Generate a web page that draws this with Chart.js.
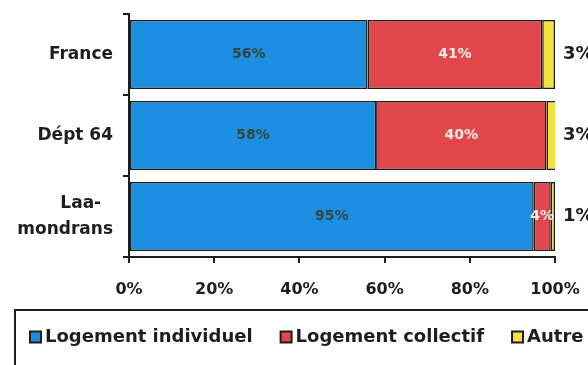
<!DOCTYPE html>
<html>
<head>
<meta charset="utf-8">
<script src="https://cdn.jsdelivr.net/npm/chart.js@4.4.1/dist/chart.umd.min.js"></script>
<style>
    html, body { margin: 0; padding: 0; background: #fff; }
</style>
</head>
<body>
<canvas id="logementChart" width="588" height="365"></canvas>
<script>
const communes = ['France', 'Dépt 64', ['Laa-  ', 'mondrans']]
const individuel = [56, 58, 95]
const collectif = [41, 40, 4]
const autre = [3, 3, 1]
const seriesNames = ['Logement individuel', 'Logement collectif', 'Autre']
const xTickValues = [0, 20, 40, 60, 80, 100]

const FONT = '"DejaVu Sans", sans-serif'
const INK = '#1e1e1e'

// writes the percentage of each segment; "Autre" goes outside the bar on the right
const segmentLabels = {
    id: 'segmentLabels',
    afterDatasetsDraw(chart) {
        const ctx = chart.ctx
        ctx.save()
        ctx.textBaseline = 'middle'
        chart.data.datasets.forEach((ds, i) => {
            chart.getDatasetMeta(i).data.forEach((bar, j) => {
                const text = ds.data[j] + '%'
                if (ds.outside) {
                    ctx.font = 'bold 18px ' + FONT
                    ctx.fillStyle = INK
                    ctx.textAlign = 'left'
                    ctx.fillText(text, chart.chartArea.right + 8, bar.y)
                } else {
                    ctx.font = 'bold 14px ' + FONT
                    ctx.fillStyle = ds.labelColor
                    ctx.textAlign = 'center'
                    ctx.fillText(text, (bar.base + bar.x) / 2, bar.y)
                }
            })
        })
        ctx.restore()
    }
}

// legend drawn inside an open frame under the axis
const framedLegend = {
    id: 'framedLegend',
    afterDraw(chart, args, opts) {
        const ctx = chart.ctx
        ctx.save()
        ctx.strokeStyle = INK
        ctx.lineWidth = 2
        ctx.beginPath()
        ctx.moveTo(opts.left, chart.height + 5)
        ctx.lineTo(opts.left, opts.top)
        ctx.lineTo(chart.width + 5, opts.top)
        ctx.stroke()

        ctx.font = 'bold 18px ' + FONT
        ctx.textBaseline = 'middle'
        ctx.textAlign = 'left'
        let x = opts.start
        chart.data.datasets.forEach(ds => {
            const s = opts.box
            ctx.fillStyle = ds.backgroundColor
            ctx.fillRect(x, opts.y - s / 2, s, s)
            ctx.lineWidth = 2
            ctx.strokeRect(x, opts.y - s / 2, s, s)
            ctx.fillStyle = INK
            ctx.fillText(ds.label, x + s + 4, opts.y)
            x += s + 4 + ctx.measureText(ds.label).width + opts.gap
        })
        ctx.restore()
    }
}

const axisLine = {color: INK, width: 2}
const axisGrid = {drawOnChartArea: false, drawTicks: true, tickLength: 6, color: INK, lineWidth: 2}

new Chart(document.getElementById('logementChart'), {
    type: 'bar',
    data: {
        labels: communes,
        datasets: [
            {label: seriesNames[0], data: individuel, backgroundColor: '#1d8fe2', labelColor: '#34463c'},
            {label: seriesNames[1], data: collectif, backgroundColor: '#e2474b', labelColor: '#fbeaea'},
            {label: seriesNames[2], data: autre, backgroundColor: '#f4e23e', outside: true}
        ]
    },
    options: {
        indexAxis: 'y',
        responsive: false,
        animation: false,
        events: [],
        layout: {padding: {top: 14, right: 33, left: 0, bottom: 0}},
        datasets: {
            bar: {
                barPercentage: 0.85,
                categoryPercentage: 1,
                borderWidth: 1.5,
                borderColor: '#1b1b1b',
                borderSkipped: false
            }
        },
        scales: {
            x: {
                stacked: true,
                min: 0,
                max: 100,
                afterBuildTicks: s => { s.ticks = xTickValues.map(v => ({value: v})) },
                afterFit: s => {
                    s.height = 108
                    s.paddingLeft = 0
                    s.paddingRight = 0
                },
                border: axisLine,
                grid: axisGrid,
                ticks: {
                    color: INK,
                    padding: 17,
                    font: {family: FONT, size: 16, weight: 'bold'},
                    callback: v => v + '%'
                }
            },
            y: {
                stacked: true,
                afterFit: s => {
                    s.width = 129
                    s.paddingTop = 0
                    s.paddingBottom = 0
                },
                border: axisLine,
                grid: {...axisGrid, offset: true},
                ticks: {
                    color: INK,
                    padding: 10,
                    font: {family: FONT, size: 17, weight: 'bold', lineHeight: 1.5}
                }
            }
        },
        plugins: {
            legend: {display: false},
            tooltip: {enabled: false},
            framedLegend: {left: 15, top: 310, start: 30, y: 337, box: 11, gap: 28}
        }
    },
    plugins: [segmentLabels, framedLegend]
})
</script>
</body>
</html>
